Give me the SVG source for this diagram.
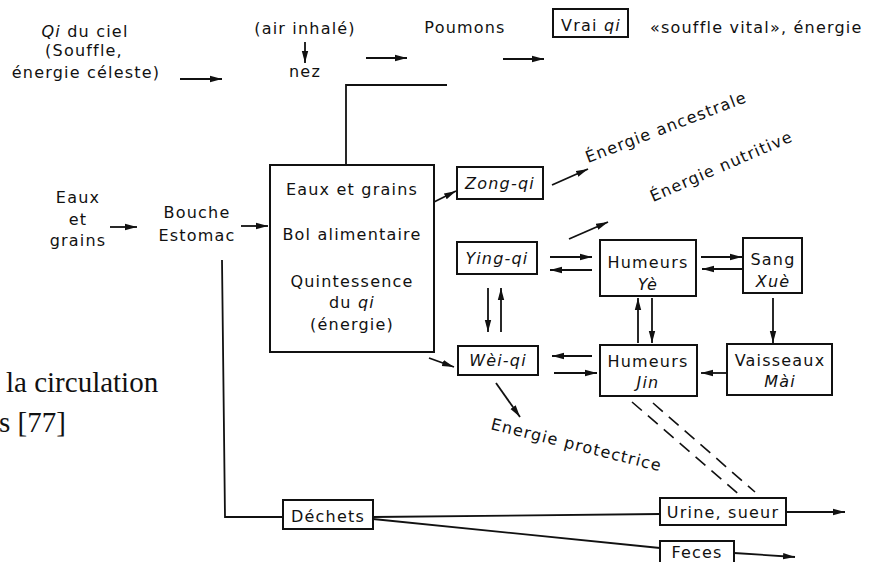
<svg xmlns="http://www.w3.org/2000/svg" width="885" height="562" viewBox="0 0 885 562">
<defs>
<marker id="ah" markerUnits="userSpaceOnUse" markerWidth="13" markerHeight="8" refX="12" refY="4" orient="auto">
<path d="M0,0.8 L12,4 L0,7.2 z" fill="#111"/>
</marker>
<style>
text{font-family:"DejaVu Sans","Liberation Sans",sans-serif;font-size:16px;letter-spacing:1.2px;fill:#111}
.c{text-anchor:middle}
.i{font-style:italic}
.box{fill:#fff;stroke:#111;stroke-width:2}
.ln{fill:none;stroke:#111;stroke-width:1.8}
.ar{fill:none;stroke:#111;stroke-width:1.8;marker-end:url(#ah)}
.ds{fill:none;stroke:#111;stroke-width:1.6;stroke-dasharray:13 8}
.cap{font-family:"Liberation Serif","Times New Roman",serif;font-size:29px;letter-spacing:0}
</style>
</defs>
<rect width="885" height="562" fill="#fff"/>

<g id="connectors">
<line class="ar" x1="180" y1="79" x2="222" y2="79"/>
<line class="ar" x1="305" y1="42" x2="305" y2="63"/>
<line class="ar" x1="366" y1="58" x2="407" y2="58"/>
<line class="ar" x1="503" y1="59" x2="544" y2="59"/>
<polyline class="ln" points="447,85 346,85 346,165"/>
<line class="ar" x1="110" y1="227" x2="137" y2="227"/>
<line class="ar" x1="241" y1="226" x2="268" y2="226"/>
<polyline class="ln" points="222,260 225,517 283,517"/>
<line class="ar" x1="432" y1="203" x2="456" y2="191"/>
<line class="ar" x1="552" y1="185" x2="588" y2="169"/>
<line class="ar" x1="569" y1="239" x2="608" y2="222"/>
<line class="ar" x1="550" y1="257" x2="592" y2="257"/>
<line class="ar" x1="592" y1="270" x2="550" y2="270"/>
<line class="ar" x1="701" y1="257" x2="742" y2="257"/>
<line class="ar" x1="742" y1="269" x2="702" y2="269"/>
<line class="ar" x1="773" y1="298" x2="773" y2="343"/>
<line class="ar" x1="727" y1="373" x2="701" y2="373"/>
<line class="ar" x1="638" y1="343" x2="638" y2="298"/>
<line class="ar" x1="652" y1="298" x2="652" y2="343"/>
<line class="ar" x1="488" y1="288" x2="488" y2="332"/>
<line class="ar" x1="501" y1="332" x2="501" y2="288"/>
<line class="ar" x1="429" y1="358" x2="454" y2="367"/>
<line class="ar" x1="592" y1="356" x2="552" y2="356"/>
<line class="ar" x1="554" y1="373" x2="597" y2="373"/>
<line class="ar" x1="496" y1="383" x2="520" y2="417"/>
<line class="ds" x1="632" y1="402" x2="742" y2="497"/>
<line class="ds" x1="653" y1="403" x2="755" y2="492"/>
<line class="ln" x1="373" y1="517" x2="660" y2="514"/>
<line class="ln" x1="373" y1="519" x2="660" y2="548"/>
<line class="ar" x1="786" y1="512" x2="845" y2="512"/>
<line class="ar" x1="734" y1="553" x2="795" y2="557"/>
</g>

<g id="qi-du-ciel">
<text class="c" x="85" y="37"><tspan class="i">Qi</tspan> du ciel</text>
<text class="c" x="84" y="56">(Souffle,</text>
<text class="c" x="86" y="78">énergie céleste)</text>
</g>
<g id="air-inhale"><text class="c" x="305" y="34">(air inhalé)</text></g>
<g id="nez"><text class="c" x="305" y="77">nez</text></g>
<g id="poumons"><text class="c" x="465" y="33">Poumons</text></g>
<g id="vrai-qi">
<rect class="box" x="553" y="9" width="75" height="28"/>
<text class="c" x="591" y="31">Vrai <tspan class="i">qi</tspan></text>
</g>
<g id="souffle-vital"><text x="650" y="33">«souffle vital», énergie</text></g>

<g id="eaux-grains">
<text class="c" x="78" y="203">Eaux</text>
<text class="c" x="78" y="225">et</text>
<text class="c" x="78" y="246">grains</text>
</g>
<g id="bouche">
<text class="c" x="197" y="218">Bouche</text>
<text class="c" x="197" y="241">Estomac</text>
</g>
<g id="main-box">
<rect class="box" x="270" y="165" width="164" height="187"/>
<text class="c" x="352" y="195">Eaux et grains</text>
<text class="c" x="352" y="240">Bol alimentaire</text>
<text class="c" x="352" y="287">Quintessence</text>
<text class="c" x="352" y="308">du <tspan class="i">qi</tspan></text>
<text class="c" x="352" y="330">(énergie)</text>
</g>

<g id="zong-qi">
<rect class="box" x="457" y="167" width="86" height="32"/>
<text class="c i" x="500" y="189">Zong-qi</text>
</g>
<g id="ying-qi">
<rect class="box" x="457" y="242" width="80" height="32"/>
<text class="c i" x="497" y="264">Ying-qi</text>
</g>
<g id="wei-qi">
<rect class="box" x="458" y="346" width="80" height="29"/>
<text class="c i" x="498" y="366">Wèi-qi</text>
</g>
<g id="humeurs-ye">
<rect class="box" x="600" y="240" width="96" height="56"/>
<text class="c" x="648" y="268">Humeurs</text>
<text class="c i" x="648" y="290">Yè</text>
</g>
<g id="sang-xue">
<rect class="box" x="743" y="238" width="59" height="55"/>
<text class="c" x="773" y="265">Sang</text>
<text class="c i" x="773" y="287">Xuè</text>
</g>
<g id="humeurs-jin">
<rect class="box" x="600" y="345" width="97" height="51"/>
<text class="c" x="648" y="367">Humeurs</text>
<text class="c i" x="648" y="388">Jin</text>
</g>
<g id="vaisseaux-mai">
<rect class="box" x="727" y="344" width="105" height="51"/>
<text class="c" x="780" y="366">Vaisseaux</text>
<text class="c i" x="780" y="387">Mài</text>
</g>

<g id="energie-ancestrale"><text transform="translate(588,163) rotate(-21)">Énergie ancestrale</text></g>
<g id="energie-nutritive"><text transform="translate(653,202) rotate(-23.5)">Énergie nutritive</text></g>
<g id="energie-protectrice"><text transform="translate(490,429) rotate(14)">Energie protectrice</text></g>

<g id="dechets">
<rect class="box" x="283" y="500" width="90" height="29"/>
<text class="c" x="328" y="522">Déchets</text>
</g>
<g id="urine-sueur">
<rect class="box" x="660" y="498" width="126" height="27"/>
<text class="c" x="723" y="518">Urine, sueur</text>
</g>
<g id="feces">
<rect class="box" x="660" y="541" width="74" height="30"/>
<text class="c" x="697" y="558">Feces</text>
</g>

<g id="caption">
<text class="cap" x="6" y="392">la circulation</text>
<text class="cap" x="-1" y="432">s [77]</text>
</g>
</svg>
